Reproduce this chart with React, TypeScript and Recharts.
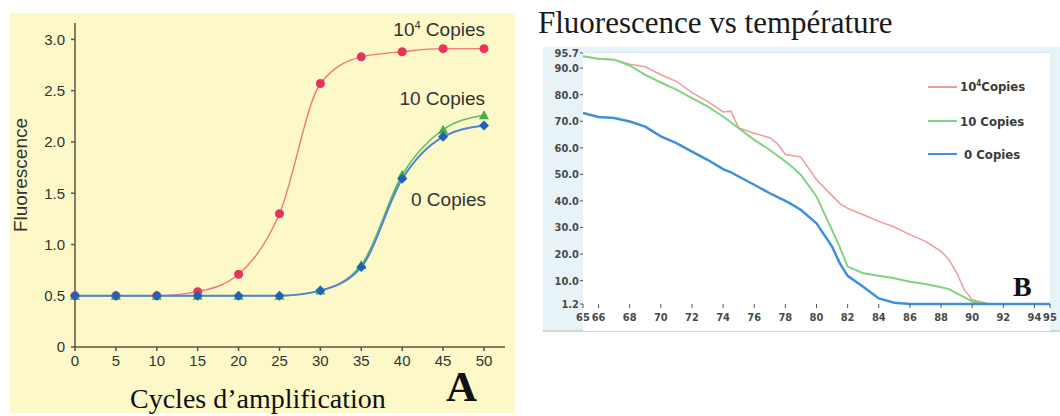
import { LineChart, Line, XAxis, YAxis } from "recharts"

// Panel A - amplification curves
const cycles = [0, 5, 10, 15, 20, 25, 30, 35, 40, 45, 50]
const copies10k = [0.5, 0.5, 0.5, 0.54, 0.71, 1.3, 2.57, 2.83, 2.88, 2.91, 2.91]
const copies10 = [0.5, 0.5, 0.5, 0.5, 0.5, 0.5, 0.55, 0.8, 1.68, 2.12, 2.26]
const copies0 = [0.5, 0.5, 0.5, 0.5, 0.5, 0.5, 0.55, 0.78, 1.64, 2.05, 2.16]
const fluoTicks = [0, 0.5, 1, 1.5, 2, 2.5, 3]

// Panel B - fluorescence vs temperature (melt curves)
const temps = [
  65, 66, 67, 68, 69, 70, 71, 72, 73, 74, 74.5, 75, 76, 77, 77.5, 78, 78.5, 79, 80, 81, 81.5, 82,
  83, 84, 85, 86, 87, 88, 88.5, 89, 89.5, 90, 91, 92, 93, 94, 95,
]
const melt10k = [
  94.5, 93.5, 93.2, 91.5, 90.5, 87.5, 85, 80.8, 77.5, 73.5, 73.8, 67.5, 65.5, 63.8, 61.5, 57.5, 57,
  56.5, 48, 42, 39, 37.2, 34.8, 32.3, 30.2, 27.3, 24.8, 21, 18, 13, 6.5, 2.8, 1.4, 1.2, 1.2, 1.2, 1.2,
]
const melt10 = [
  94.5, 93.5, 93.2, 91, 87.5, 84.6, 81.9, 78.7, 75.6, 71.8, 69.6, 67.4, 63, 59.2, 57, 54.8, 52.5,
  49.8, 41.7, 29, 22.5, 15.3, 12.8, 11.8, 10.9, 9.6, 8.7, 7.5, 6.8, 5.2, 3.8, 2.1, 1.2, 1.2, 1.2, 1.2, 1.2,
]
const melt0 = [
  73.1, 71.6, 71.2, 69.9, 68, 64.3, 61.8, 58.6, 55.5, 52, 50.8, 49.2, 46.1, 42.9, 41.4, 40, 38.4,
  36.6, 31.6, 22.8, 16.5, 11.8, 7.7, 3.3, 1.7, 1.2, 1.2, 1.2, 1.2, 1.2, 1.2, 1.2, 1.2, 1.2, 1.2, 1.2, 1.2,
]
const tempTicks = [65, 66, 68, 70, 72, 74, 76, 78, 80, 82, 84, 86, 88, 90, 92, 94, 95]
const meltTicks = [1.2, 10, 20, 30, 40, 50, 60, 70, 80, 90, 95.7]

const ampData = cycles.map((c, i) => ({ cycle: c, a: copies10k[i], b: copies10[i], c: copies0[i] }))
const meltData = temps.map((t, i) => ({ t, a: melt10k[i], b: melt10[i], c: melt0[i] }))

const circleDot = (color: string) => (p: any) => (
  <circle key={p.index} cx={p.cx} cy={p.cy} r={4.5} fill={color} />
)
const diamondDot = (color: string) => (p: any) => {
  const s = 5
  return (
    <polygon
      key={p.index}
      points={`${p.cx},${p.cy - s} ${p.cx + s},${p.cy} ${p.cx},${p.cy + s} ${p.cx - s},${p.cy}`}
      fill={color}
    />
  )
}
const triangleDot = (color: string) => (p: any) => {
  const s = 5
  return (
    <polygon
      key={p.index}
      points={`${p.cx},${p.cy - s} ${p.cx + s},${p.cy + s * 0.8} ${p.cx - s},${p.cy + s * 0.8}`}
      fill={color}
    />
  )
}

const sans = "'Liberation Sans', Arial, sans-serif"
const serif = "'Liberation Serif', 'Times New Roman', serif"
const narrow = "'DejaVu Sans Condensed', 'Liberation Sans Narrow', sans-serif"

function AmplificationChart() {
  const axis = "#5a5640"
  return (
    <div style={{ position: "absolute", left: 10, top: 13, width: 505, height: 400, background: "#fdf8c8" }}>
      <LineChart width={505} height={400} data={ampData} margin={{ top: 10, right: 10, bottom: 36, left: 0 }}>
        <XAxis
          dataKey="cycle"
          type="number"
          domain={[0, 52.57]}
          ticks={cycles}
          interval={0}
          height={30}
          tickSize={4}
          tickMargin={4}
          stroke={axis}
          strokeWidth={1.5}
          tick={{ fill: "#333", fontSize: 15, fontFamily: sans }}
        />
        <YAxis
          type="number"
          domain={[0, 3.16]}
          ticks={fluoTicks}
          interval={0}
          width={65}
          tickSize={4}
          tickMargin={6}
          stroke={axis}
          strokeWidth={1.5}
          tickFormatter={(v: number) => (v === 0 ? "0" : v.toFixed(1))}
          tick={{ fill: "#333", fontSize: 15, fontFamily: sans }}
        />
        <Line type="monotone" dataKey="a" stroke="#f27878" strokeWidth={1.4} dot={circleDot("#e8345c")} isAnimationActive={false} />
        <Line type="monotone" dataKey="b" stroke="#5cc060" strokeWidth={1.5} dot={triangleDot("#3fae48")} isAnimationActive={false} />
        <Line type="monotone" dataKey="c" stroke="#4f86d0" strokeWidth={2} dot={diamondDot("#1f62b8")} isAnimationActive={false} />
      </LineChart>
    </div>
  )
}

function MeltChart() {
  const tickText = { fill: "#4a4a4a", fontSize: 11, fontFamily: narrow, fontWeight: 700 }
  return (
    <div style={{ position: "absolute", left: 543, top: 47, width: 517, height: 283, background: "#e7f3f7", borderBottom: "2px solid #cfd6da" }}>
      <div style={{ position: "absolute", left: 40, top: 5, width: 467, height: 278, background: "#fff", borderTop: "1px solid #d2e8ef" }} />
      <div style={{ position: "absolute", left: 0, top: 0 }}>
        <LineChart width={517} height={283} data={meltData} margin={{ top: 6, right: 10, bottom: 2, left: 0 }}>
          <XAxis
            dataKey="t"
            type="number"
            domain={[65, 95]}
            ticks={tempTicks}
            interval={0}
            height={24}
            axisLine={false}
            tickSize={4}
            tickMargin={5}
            tickLine={{ stroke: "#555" }}
            tick={tickText}
          />
          <YAxis
            type="number"
            domain={[1.2, 95.7]}
            ticks={meltTicks}
            interval={0}
            width={40}
            axisLine={false}
            tickSize={3}
            tickMargin={1}
            tickLine={{ stroke: "#555" }}
            tickFormatter={(v: number) => v.toFixed(1)}
            tick={tickText}
          />
          <Line type="linear" dataKey="a" stroke="#f29a9a" strokeWidth={1.5} dot={false} isAnimationActive={false} />
          <Line type="linear" dataKey="b" stroke="#7fd480" strokeWidth={2} dot={false} isAnimationActive={false} />
          <Line type="linear" dataKey="c" stroke="#3f90dc" strokeWidth={2.5} dot={false} isAnimationActive={false} />
        </LineChart>
      </div>
    </div>
  )
}

const legendItems = [
  { label: "10", sup: "4", rest: "Copies", color: "#f29a9a", y: 87 },
  { label: "10 Copies", sup: "", rest: "", color: "#7fd480", y: 121 },
  { label: "\u00a00 Copies", sup: "", rest: "", color: "#3f90dc", y: 154 },
]

export default function App() {
  return (
    <div style={{ position: "absolute", left: 0, top: 0, width: 1060, height: 416, background: "#fff", overflow: "hidden" }}>
      <AmplificationChart />
      <div
        style={{
          position: "absolute", left: -49, top: 165, width: 140, height: 20, lineHeight: "20px",
          textAlign: "center", transform: "rotate(-90deg)", fontFamily: sans, fontSize: 19, color: "#333",
        }}
      >
        Fluorescence
      </div>
      <div style={{ position: "absolute", right: 1060 - 485, top: 20, fontFamily: sans, fontSize: 19, color: "#333", lineHeight: 1 }}>
        10<sup style={{ fontSize: 11 }}>4</sup> Copies
      </div>
      <div style={{ position: "absolute", right: 1060 - 485, top: 89, fontFamily: sans, fontSize: 19, color: "#333", lineHeight: 1 }}>
        10 Copies
      </div>
      <div style={{ position: "absolute", right: 1060 - 486, top: 190, fontFamily: sans, fontSize: 19, color: "#333", lineHeight: 1 }}>
        0 Copies
      </div>
      <div style={{ position: "absolute", left: 130, top: 385, fontFamily: serif, fontSize: 28, color: "#111", lineHeight: 1, whiteSpace: "nowrap" }}>
        Cycles d’amplification
      </div>
      <div style={{ position: "absolute", left: 446, top: 374, height: 26, fontFamily: serif, fontSize: 43, fontWeight: 700, color: "#111", lineHeight: "26px" }}>
        A
      </div>

      <div style={{ position: "absolute", left: 538, top: 7, fontFamily: serif, fontSize: 31, color: "#1a1a1a", lineHeight: 1, whiteSpace: "nowrap" }}>
        Fluorescence vs température
      </div>
      <MeltChart />
      {legendItems.map((it) => (
        <div key={it.color} style={{ position: "absolute", left: 928, top: it.y - 8, height: 16, display: "flex", alignItems: "center" }}>
          <div style={{ width: 29, height: 2, background: it.color }} />
          <div style={{ marginLeft: 3, fontFamily: narrow, fontWeight: 700, fontSize: 13, color: "#3a3a3a", whiteSpace: "nowrap" }}>
            {it.label}
            {it.sup && <sup style={{ fontSize: 8 }}>{it.sup}</sup>}
            {it.rest}
          </div>
        </div>
      ))}
      <div style={{ position: "absolute", left: 1013, top: 273, fontFamily: serif, fontSize: 28, fontWeight: 700, color: "#111", lineHeight: 1 }}>
        B
      </div>
    </div>
  )
}
